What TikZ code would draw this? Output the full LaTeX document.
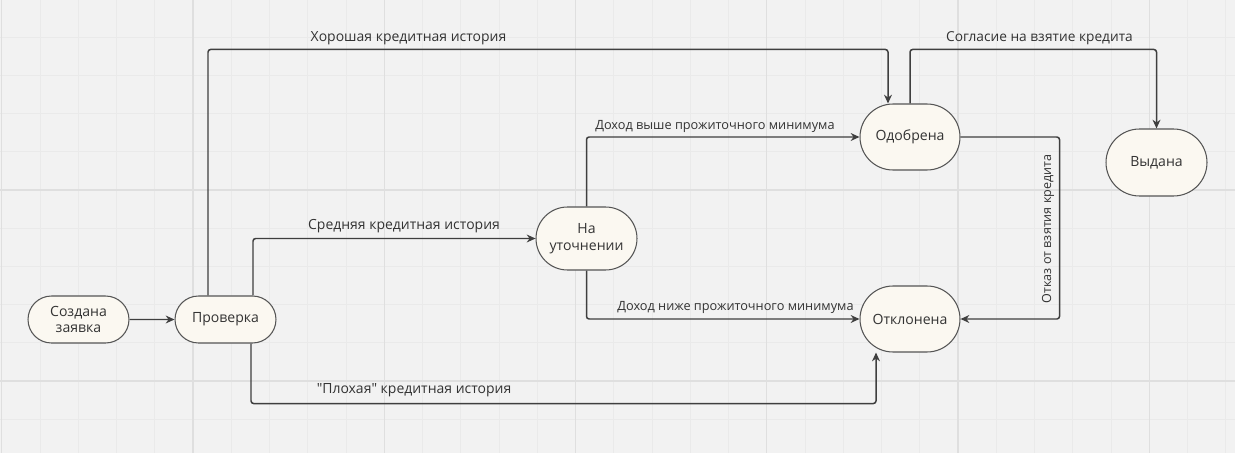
\documentclass[tikz,border=0pt]{standalone}
\usepackage{fontspec}
\setmainfont{Open Sans}[Ligatures=TeXOff]
\usepackage{tikz}
\usetikzlibrary{arrows.meta, calc, shapes.misc}

\definecolor{bgcol}{HTML}{F2F2F2}
\definecolor{gridminor}{HTML}{EAEAEA}
\definecolor{gridmajor}{HTML}{DFDFDF}
\definecolor{nodefill}{HTML}{FBF8F1}
\definecolor{nodeline}{HTML}{555555}
\definecolor{edge}{HTML}{3F3F3F}
\definecolor{txt}{HTML}{333333}

\begin{document}
\begin{tikzpicture}[x=0.02cm, y=-0.02cm,
  state/.style={draw=nodeline, fill=nodefill, line width=0.6pt, rounded rectangle,
    minimum width=2.02cm, minimum height=0.94cm, inner sep=0pt, align=center,
    font=\fontsize{8}{9.6}\selectfont, text=txt},
  link/.style={draw=edge, line width=0.85pt, rounded corners=1.5pt,
    -{Stealth[length=5pt, width=4.5pt]}},
  lbl/.style={font=\fontsize{7.4}{9}\selectfont, text=txt, inner sep=0pt}]

% background and grid
\fill[bgcol] (0,0) rectangle (1235,453);
\useasboundingbox (0,0) rectangle (1235,453);
\begin{scope}
\clip (0,0) rectangle (1235,453);
\foreach \k in {0,...,32} \draw[gridminor, line width=0.5pt] ({1.75+38.25*\k},0) -- ({1.75+38.25*\k},453);
\foreach \k in {0,...,11} \draw[gridminor, line width=0.5pt] (0,{-1+38.2*\k}) -- (1235,{-1+38.2*\k});
\foreach \k in {0,...,6} \draw[gridmajor, line width=0.6pt] ({1.75+191.25*\k},0) -- ({1.75+191.25*\k},453);
\foreach \k in {0,...,2} \draw[gridmajor, line width=0.6pt] (0,{-1+191*\k}) -- (1235,{-1+191*\k});
\end{scope}

% states
\node[state] (created) at (78.5,319.5) {Создана\\заявка};
\node[state] (check) at (225.5,319.5) {Проверка};
\node[state, minimum height=1.26cm] (clarify) at (586.5,238.5) {На\\уточнении};
\node[state, minimum width=2cm, minimum height=1.32cm] (approved) at (910,137) {Одобрена};
\node[state, minimum height=1.34cm] (issued) at (1156.5,162.5) {Выдана};
\node[state, minimum width=2cm, minimum height=1.32cm] (rejected) at (910,319) {Отклонена};

% transitions
\draw[link] (created) -- (check);
\draw[link] ($(check.north)+(-17.5,0)$) |- ($(approved.north)+(-22,-54)$) -- ($(approved.north)+(-22,0)$);
\draw[link] ($(check.north)+(27.5,0)$) |- (clarify.west);
\draw[link] ($(check.south)+(25.5,0)$) |- ($(rejected.south)+(-34,51)$) -- ($(rejected.south)+(-34,0)$);
\draw[link] (clarify.north) |- (approved.west);
\draw[link] (clarify.south) |- (rejected.west);
\draw[link] (approved.east) -| ($(rejected.east)+(99,0)$) -- (rejected.east);
\draw[link] (approved.north) |- ($(issued.north)+(0,-79)$) -- (issued.north);

% labels
\node[lbl, font=\fontsize{7.95}{9}\selectfont] (lgood) at (408.5,38) {Хорошая кредитная история};
\node[lbl, font=\fontsize{7.95}{9}\selectfont] (lmid) at (404,226) {Средняя кредитная история};
\node[lbl, font=\fontsize{7.95}{9}\selectfont] (lbad) at (414,390) {"Плохая" кредитная история};
\node[lbl, font=\fontsize{7.25}{9}\selectfont] (lhigh) at (715,126) {Доход выше прожиточного минимума};
\node[lbl, font=\fontsize{7.25}{9}\selectfont] (llow) at (735.5,307) {Доход ниже прожиточного минимума};
\node[lbl, rotate=90, font=\fontsize{7.15}{9}\selectfont] (lrefuse) at (1048,229) {Отказ от взятия кредита};
\node[lbl, font=\fontsize{7.8}{9}\selectfont] (lagree) at (1039.5,38) {Согласие на взятие кредита};
\end{tikzpicture}
\end{document}
